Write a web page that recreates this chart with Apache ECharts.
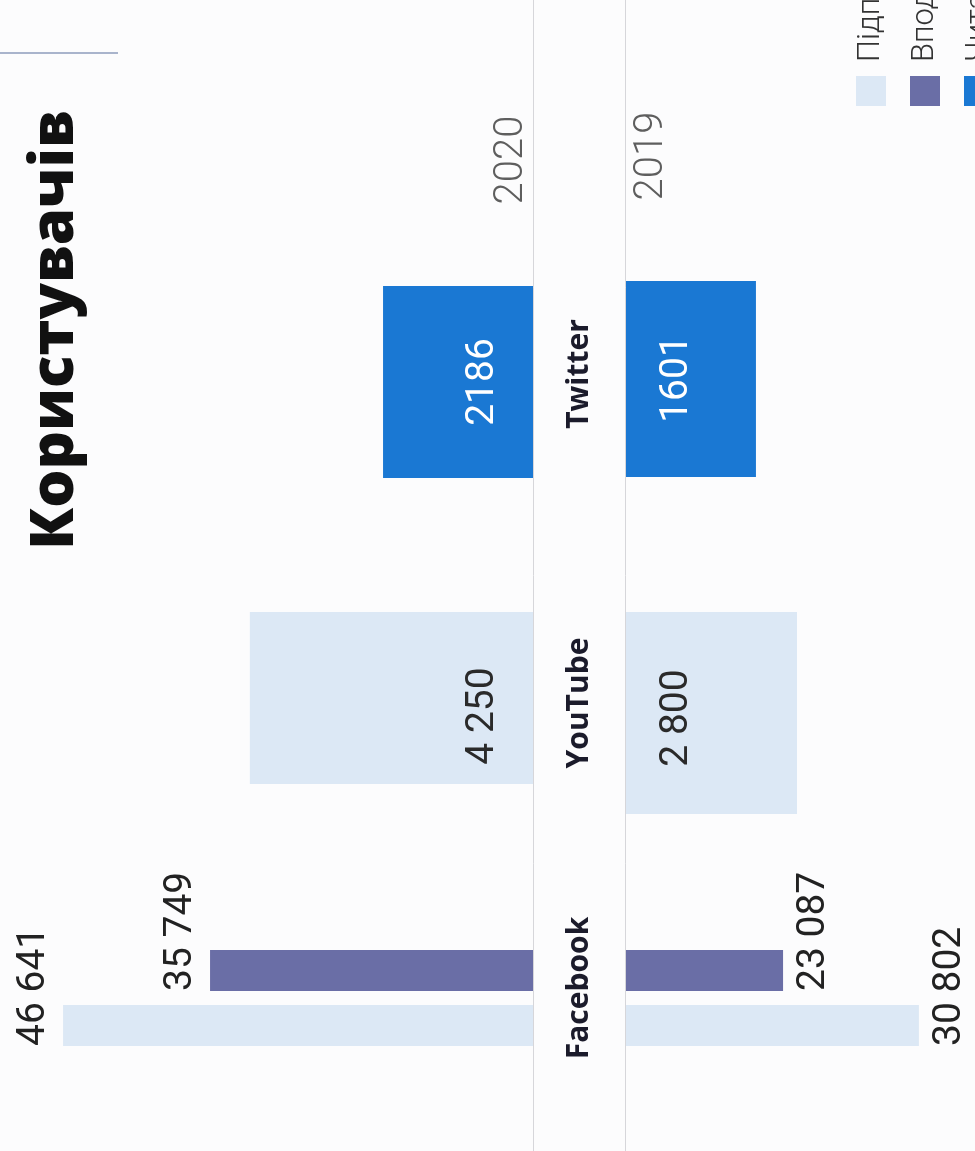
<!DOCTYPE html>
<html><head><meta charset="utf-8">
<script src="https://cdn.jsdelivr.net/npm/echarts@6/dist/echarts.min.js"></script>
<style>html,body{margin:0;padding:0;background:#fcfcfd}#c{width:975px;height:1151px}</style>
</head><body><div id="c"></div>
<script>
// ---- data ----
const platforms = ['Facebook', 'YouTube', 'Twitter'];
const years = ['2020', '2019'];
const metrics = ['Підписники', 'Вподобання', 'Читачі'];
const subscribers2020 = [46641, 4250, null];
const subscribers2019 = [30802, 2800, null];
const likes2020 = [35749, null, null];
const likes2019 = [23087, null, null];
const readers2020 = [null, null, 2186];
const readers2019 = [null, null, 1601];
const titleText = 'Користувачів';

// ---- styles / layout ----
const colors = { 'Підписники': '#dce8f5', 'Вподобання': '#6a6ea6', 'Читачі': '#1a78d3' };
const valueTable = {
  '2020': { 'Підписники': subscribers2020, 'Вподобання': likes2020, 'Читачі': readers2020 },
  '2019': { 'Підписники': subscribers2019, 'Вподобання': likes2019, 'Читачі': readers2019 }
};
// band placement and per-bar scale of the infographic (bars are not on one common scale)
const barLayout = {
  'Facebook|Вподобання|2020': { top: 950, height: 41, max: 59000, shift: 0 },
  'Facebook|Підписники|2020': { top: 1005, height: 41, max: 52900, shift: 0 },
  'YouTube|Підписники|2020': { top: 612, height: 172, max: 8000, shift: -18 },
  'Twitter|Читачі|2020': { top: 286, height: 192, max: 7770, shift: 0 },
  'Facebook|Вподобання|2019': { top: 950, height: 41, max: 51300, shift: 0 },
  'Facebook|Підписники|2019': { top: 1005, height: 41, max: 36700, shift: 0 },
  'YouTube|Підписники|2019': { top: 612, height: 202, max: 5715, shift: -5 },
  'Twitter|Читачі|2019': { top: 281, height: 196, max: 4300, shift: 0 }
};
const NUM_FONT = { fontFamily: 'Roboto', fontWeight: 400, fontSize: 39 };

function fmt(v, m) {
  return m === 'Читачі' ? String(v) : String(v).replace(/\B(?=(\d{3})+(?!\d))/g, ' ');
}
function makeLabel(p, year, m, L) {
  const base = Object.assign({ show: true, rotate: 90, formatter: (pr) => fmt(pr.value, m) }, NUM_FONT);
  if (p === 'Facebook') {
    return year === '2020'
      ? Object.assign(base, { color: '#222', position: [0, '100%'], align: 'left', verticalAlign: 'bottom', offset: [0, -9] })
      : Object.assign(base, { color: '#222', position: ['100%', '100%'], align: 'left', verticalAlign: 'top', offset: [0, 12] });
  }
  const color = m === 'Читачі' ? '#ffffff' : '#2a2a2a';
  return year === '2020'
    ? Object.assign(base, { color, position: ['100%', '50%'], align: 'center', verticalAlign: 'middle', offset: [L.shift, -50] })
    : Object.assign(base, { color, position: [0, '50%'], align: 'center', verticalAlign: 'middle', offset: [L.shift, 51] });
}

const grids = [], xAxes = [], yAxes = [], series = [];
years.forEach(year => platforms.forEach((p, pi) => metrics.forEach(m => {
  const v = valueTable[year][m][pi];
  if (v == null) return;
  const L = barLayout[p + '|' + m + '|' + year];
  const idx = grids.length;
  const is2020 = year === '2020';
  grids.push(is2020
    ? { left: 0, width: 533, top: L.top, height: L.height }
    : { left: 626, width: 349, top: L.top, height: L.height });
  xAxes.push({ type: 'value', gridIndex: idx, min: 0, max: L.max, inverse: is2020, show: false });
  yAxes.push({ type: 'category', gridIndex: idx, data: [p], show: false });
  series.push({
    type: 'bar', name: m, xAxisIndex: idx, yAxisIndex: idx, data: [v],
    barWidth: '100%', barCategoryGap: 0, itemStyle: { color: colors[m] },
    label: makeLabel(p, year, m, L), silent: true
  });
})));

function vtext(text, x, y, opts) {
  return {
    type: 'text', x, y, rotation: Math.PI / 2, z: 10,
    style: Object.assign({ text, fill: '#222', align: 'center', verticalAlign: 'middle',
      textAlign: 'center', textVerticalAlign: 'middle' }, opts)
  };
}
const platformCenters = { 'Twitter': 374, 'YouTube': 703, 'Facebook': 988 };
const legendX = [871, 925, 979];
const graphic = [
  { type: 'line', z: 1, shape: { x1: 0, y1: 53, x2: 118, y2: 53 }, style: { stroke: '#a9b4cc', lineWidth: 2 } },
  { type: 'line', z: 1, shape: { x1: 533.5, y1: 0, x2: 533.5, y2: 1151 }, style: { stroke: '#d6d6da', lineWidth: 1 } },
  { type: 'line', z: 1, shape: { x1: 625.5, y1: 0, x2: 625.5, y2: 1151 }, style: { stroke: '#d6d6da', lineWidth: 1 } },
  vtext(titleText, 56, 330, { font: '800 60px "Open Sans"', fill: '#111' }),
  vtext(years[0], 512, 160, { font: '300 40px Roboto', fill: '#5e5e5e' }),
  vtext(years[1], 652, 156, { font: '300 40px Roboto', fill: '#5e5e5e' })
];
platforms.forEach(p => graphic.push(vtext(p, 579, platformCenters[p], { font: 'bold 30px "Open Sans"', fill: '#1b1b2b' })));
metrics.forEach((m, i) => {
  graphic.push({ type: 'rect', z: 5, shape: { x: legendX[i] - 15, y: 76, width: 30, height: 30 }, style: { fill: colors[m] } });
  graphic.push({
    type: 'text', x: legendX[i], y: 62, rotation: Math.PI / 2, z: 10,
    style: { text: m, font: '300 31px Roboto', fill: '#333', align: 'left', verticalAlign: 'middle', textAlign: 'left', textVerticalAlign: 'middle' }
  });
});

const chart = echarts.init(document.getElementById('c'), null, { renderer: 'canvas' });
chart.setOption({
  backgroundColor: '#fcfcfd',
  animation: false,
  grid: grids, xAxis: xAxes, yAxis: yAxes, series, graphic
});
</script></body></html>
